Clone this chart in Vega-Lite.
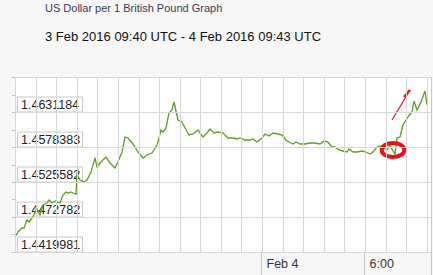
{
  "$schema": "https://vega.github.io/schema/vega-lite/v6.json",
  "width": 416,
  "height": 175,
  "autosize": {"type": "none"},
  "padding": {"left": 15, "top": 77, "right": 2, "bottom": 23},
  "background": "#f7f7f7",
  "title": {
    "text": "US Dollar per 1 British Pound Graph",
    "subtitle": "3 Feb 2016 09:40 UTC - 4 Feb 2016 09:43 UTC",
    "anchor": "start",
    "frame": "group",
    "dx": 30,
    "offset": 33,
    "font": "Liberation Sans",
    "fontSize": 11,
    "fontWeight": "normal",
    "color": "#3a3a52",
    "subtitleFont": "Liberation Sans",
    "subtitleFontSize": 13,
    "subtitleColor": "#111111",
    "subtitlePadding": 17
  },
  "config": {
    "font": "Liberation Sans",
    "view": {"fill": "#ffffff", "stroke": "#c8c8c8", "strokeWidth": 1},
    "axis": {"gridColor": "#d8d8d8", "gridWidth": 1, "gridOpacity": 1}
  },
  "resolve": {"axis": {"x": "independent", "y": "independent"}},
  "datasets": {
    "ylabels": [
      {"v": 1.4419981, "lab": "1.4419981"},
      {"v": 1.4472782, "lab": "1.4472782"},
      {"v": 1.4525582, "lab": "1.4525582"},
      {"v": 1.4578383, "lab": "1.4578383"},
      {"v": 1.4631184, "lab": "1.4631184"}
    ],
    "fx": [
      {"t": "2016-02-03T09:40:00Z", "v": 1.44431},
      {"t": "2016-02-03T09:52:00Z", "v": 1.44507},
      {"t": "2016-02-03T10:03:00Z", "v": 1.44557},
      {"t": "2016-02-03T10:11:00Z", "v": 1.44557},
      {"t": "2016-02-03T10:21:00Z", "v": 1.44683},
      {"t": "2016-02-03T10:30:00Z", "v": 1.44647},
      {"t": "2016-02-03T10:42:00Z", "v": 1.44733},
      {"t": "2016-02-03T10:50:00Z", "v": 1.44808},
      {"t": "2016-02-03T10:58:00Z", "v": 1.44849},
      {"t": "2016-02-03T11:07:00Z", "v": 1.44758},
      {"t": "2016-02-03T11:19:00Z", "v": 1.44909},
      {"t": "2016-02-03T11:31:00Z", "v": 1.44934},
      {"t": "2016-02-03T11:40:00Z", "v": 1.44984},
      {"t": "2016-02-03T11:48:00Z", "v": 1.44934},
      {"t": "2016-02-03T12:00:00Z", "v": 1.44969},
      {"t": "2016-02-03T12:08:00Z", "v": 1.44959},
      {"t": "2016-02-03T12:17:00Z", "v": 1.44934},
      {"t": "2016-02-03T12:29:00Z", "v": 1.45060},
      {"t": "2016-02-03T12:38:00Z", "v": 1.45100},
      {"t": "2016-02-03T12:47:00Z", "v": 1.45085},
      {"t": "2016-02-03T12:56:00Z", "v": 1.45110},
      {"t": "2016-02-03T13:04:00Z", "v": 1.45085},
      {"t": "2016-02-03T13:12:00Z", "v": 1.45075},
      {"t": "2016-02-03T13:18:00Z", "v": 1.45372},
      {"t": "2016-02-03T13:27:00Z", "v": 1.45286},
      {"t": "2016-02-03T13:41:00Z", "v": 1.45251},
      {"t": "2016-02-03T13:53:00Z", "v": 1.45286},
      {"t": "2016-02-03T14:05:00Z", "v": 1.45412},
      {"t": "2016-02-03T14:20:00Z", "v": 1.45623},
      {"t": "2016-02-03T14:28:00Z", "v": 1.45487},
      {"t": "2016-02-03T14:40:00Z", "v": 1.45553},
      {"t": "2016-02-03T14:57:00Z", "v": 1.45638},
      {"t": "2016-02-03T15:12:00Z", "v": 1.45537},
      {"t": "2016-02-03T15:30:00Z", "v": 1.45462},
      {"t": "2016-02-03T15:41:00Z", "v": 1.45563},
      {"t": "2016-02-03T15:53:00Z", "v": 1.45713},
      {"t": "2016-02-03T16:05:00Z", "v": 1.45940},
      {"t": "2016-02-03T16:16:00Z", "v": 1.45915},
      {"t": "2016-02-03T16:34:00Z", "v": 1.45824},
      {"t": "2016-02-03T16:51:00Z", "v": 1.45713},
      {"t": "2016-02-03T17:09:00Z", "v": 1.45623},
      {"t": "2016-02-03T17:21:00Z", "v": 1.45663},
      {"t": "2016-02-03T17:38:00Z", "v": 1.45688},
      {"t": "2016-02-03T17:55:00Z", "v": 1.45814},
      {"t": "2016-02-03T18:05:00Z", "v": 1.45915},
      {"t": "2016-02-03T18:09:00Z", "v": 1.46040},
      {"t": "2016-02-03T18:19:00Z", "v": 1.46015},
      {"t": "2016-02-03T18:27:00Z", "v": 1.46066},
      {"t": "2016-02-03T18:39:00Z", "v": 1.46292},
      {"t": "2016-02-03T18:48:00Z", "v": 1.46342},
      {"t": "2016-02-03T18:57:00Z", "v": 1.46458},
      {"t": "2016-02-03T19:09:00Z", "v": 1.46191},
      {"t": "2016-02-03T19:23:00Z", "v": 1.46166},
      {"t": "2016-02-03T19:35:00Z", "v": 1.46066},
      {"t": "2016-02-03T19:50:00Z", "v": 1.45965},
      {"t": "2016-02-03T20:04:00Z", "v": 1.45975},
      {"t": "2016-02-03T20:21:00Z", "v": 1.46040},
      {"t": "2016-02-03T20:36:00Z", "v": 1.45930},
      {"t": "2016-02-03T20:50:00Z", "v": 1.45990},
      {"t": "2016-02-03T21:02:00Z", "v": 1.46055},
      {"t": "2016-02-03T21:16:00Z", "v": 1.45990},
      {"t": "2016-02-03T21:31:00Z", "v": 1.46005},
      {"t": "2016-02-03T21:49:00Z", "v": 1.45990},
      {"t": "2016-02-03T22:06:00Z", "v": 1.45925},
      {"t": "2016-02-03T22:21:00Z", "v": 1.45915},
      {"t": "2016-02-03T22:35:00Z", "v": 1.45905},
      {"t": "2016-02-03T22:47:00Z", "v": 1.45925},
      {"t": "2016-02-03T23:04:00Z", "v": 1.45889},
      {"t": "2016-02-03T23:22:00Z", "v": 1.45889},
      {"t": "2016-02-03T23:34:00Z", "v": 1.45900},
      {"t": "2016-02-03T23:48:00Z", "v": 1.45864},
      {"t": "2016-02-04T00:03:00Z", "v": 1.45915},
      {"t": "2016-02-04T00:14:00Z", "v": 1.45975},
      {"t": "2016-02-04T00:30:00Z", "v": 1.45955},
      {"t": "2016-02-04T00:44:00Z", "v": 1.45990},
      {"t": "2016-02-04T01:01:00Z", "v": 1.45985},
      {"t": "2016-02-04T01:13:00Z", "v": 1.45965},
      {"t": "2016-02-04T01:28:00Z", "v": 1.45889},
      {"t": "2016-02-04T01:40:00Z", "v": 1.45854},
      {"t": "2016-02-04T01:51:00Z", "v": 1.45824},
      {"t": "2016-02-04T02:03:00Z", "v": 1.45854},
      {"t": "2016-02-04T02:17:00Z", "v": 1.45824},
      {"t": "2016-02-04T02:34:00Z", "v": 1.45829},
      {"t": "2016-02-04T02:52:00Z", "v": 1.45849},
      {"t": "2016-02-04T03:09:00Z", "v": 1.45839},
      {"t": "2016-02-04T03:27:00Z", "v": 1.45834},
      {"t": "2016-02-04T03:42:00Z", "v": 1.45874},
      {"t": "2016-02-04T03:56:00Z", "v": 1.45854},
      {"t": "2016-02-04T04:08:00Z", "v": 1.45789},
      {"t": "2016-02-04T04:19:00Z", "v": 1.45779},
      {"t": "2016-02-04T04:34:00Z", "v": 1.45739},
      {"t": "2016-02-04T04:48:00Z", "v": 1.45723},
      {"t": "2016-02-04T05:00:00Z", "v": 1.45713},
      {"t": "2016-02-04T05:09:00Z", "v": 1.45749},
      {"t": "2016-02-04T05:21:00Z", "v": 1.45713},
      {"t": "2016-02-04T05:35:00Z", "v": 1.45713},
      {"t": "2016-02-04T05:52:00Z", "v": 1.45723},
      {"t": "2016-02-04T06:08:00Z", "v": 1.45713},
      {"t": "2016-02-04T06:22:00Z", "v": 1.45678},
      {"t": "2016-02-04T06:33:00Z", "v": 1.45713},
      {"t": "2016-02-04T06:45:00Z", "v": 1.45789},
      {"t": "2016-02-04T06:57:00Z", "v": 1.45804},
      {"t": "2016-02-04T07:08:00Z", "v": 1.45774},
      {"t": "2016-02-04T07:20:00Z", "v": 1.45739},
      {"t": "2016-02-04T07:32:00Z", "v": 1.45804},
      {"t": "2016-02-04T07:49:00Z", "v": 1.45673},
      {"t": "2016-02-04T07:57:00Z", "v": 1.45915},
      {"t": "2016-02-04T08:07:00Z", "v": 1.45940},
      {"t": "2016-02-04T08:18:00Z", "v": 1.46116},
      {"t": "2016-02-04T08:36:00Z", "v": 1.46241},
      {"t": "2016-02-04T08:47:00Z", "v": 1.46317},
      {"t": "2016-02-04T08:56:00Z", "v": 1.46478},
      {"t": "2016-02-04T09:07:00Z", "v": 1.46342},
      {"t": "2016-02-04T09:19:00Z", "v": 1.46468},
      {"t": "2016-02-04T09:34:00Z", "v": 1.46629},
      {"t": "2016-02-04T09:42:00Z", "v": 1.46418}
    ],
    "circle": [
      {"t": "2016-02-04T07:43:00Z", "v": 1.45739}
    ],
    "pen": [
      {"t": "2016-02-04T07:37:00Z", "v": 1.46191},
      {"t": "2016-02-04T08:42:00Z", "v": 1.46644}
    ],
    "scribble": [
      {"t": "2016-02-04T08:22:00Z", "v": 1.46538},
      {"t": "2016-02-04T08:43:00Z", "v": 1.46651}
    ]
  },
  "layer": [
    {
      "data": {"name": "fx"},
      "mark": {"type": "line", "opacity": 0, "strokeWidth": 0},
      "encoding": {
        "x": {
          "field": "t",
          "type": "temporal",
          "scale": {"type": "utc", "domain": [1454492400000, 1454579700000], "round": true},
          "axis": {
            "orient": "bottom",
            "zindex": 1,
            "title": null,
            "domain": false,
            "grid": true,
            "ticks": false,
            "labels": false,
            "tickCount": 200,
            "values": [1454492400000, 1454496720000, 1454501040000, 1454505360000, 1454509680000, 1454514000000, 1454518320000, 1454522640000, 1454526960000, 1454531280000, 1454535600000, 1454539920000, 1454544240000, 1454548560000, 1454552880000, 1454557200000, 1454561520000, 1454565840000, 1454570160000, 1454574480000, 1454578800000]
          }
        },
        "y": {
          "field": "v",
          "type": "quantitative",
          "scale": {"domain": [1.4419981, 1.4683985], "nice": false, "zero": false, "round": true},
          "axis": {
            "orient": "left",
            "zindex": 1,
            "title": null,
            "domain": false,
            "grid": true,
            "ticks": false,
            "labels": false,
            "tickCount": 200,
            "values": [1.4419981, 1.4472782, 1.4525582, 1.4578383, 1.4631184, 1.4683985]
          }
        }
      }
    },
    {
      "data": {"name": "ylabels"},
      "mark": {"type": "rect", "fill": "#ffffff", "stroke": "#c8c8c8", "strokeWidth": 1, "xOffset": 2.5, "x2Offset": 67.5, "yOffset": -15, "y2Offset": 0},
      "encoding": {
        "x": {
          "datum": 1454492400000,
          "type": "temporal",
          "axis": {
            "orient": "bottom",
            "zindex": 1,
            "title": null,
            "domain": false,
            "grid": false,
            "tickCount": 200,
            "values": [1454544000000, 1454565600000, 1454579700000],
            "ticks": true,
            "tickSize": 23,
            "tickColor": "#c4c4c4",
            "labelExpr": "utcminutes(datum.value) == 0 && utchours(datum.value) == 0 ? 'Feb 4' : (utcminutes(datum.value) == 0 && utchours(datum.value) == 6 ? '6:00' : '')",
            "labelAlign": "left",
            "labelBaseline": "middle",
            "labelPadding": -12,
            "labelOffset": 5,
            "labelFontSize": 12.5,
            "labelColor": "#333333",
            "labelFlush": false,
            "labelOverlap": false,
            "labelBound": false
          }
        },
        "x2": {"datum": 1454492400000},
        "y": {
          "field": "v",
          "type": "quantitative",
          "axis": {
            "orient": "left",
            "zindex": 1,
            "title": null,
            "domain": false,
            "grid": false,
            "labels": false,
            "tickCount": 200,
            "values": [1.4419981, 1.44463815, 1.4472782, 1.44991825, 1.4525582, 1.45519825, 1.4578383, 1.46047835, 1.4631184, 1.46575845, 1.4683985],
            "tickSize": 4,
            "tickColor": "#c4c4c4"
          }
        },
        "y2": {"field": "v"}
      }
    },
    {
      "data": {"name": "ylabels"},
      "mark": {"type": "text", "align": "left", "baseline": "alphabetic", "dx": 6, "dy": -3, "fontSize": 12.5, "color": "#222222"},
      "encoding": {
        "x": {"datum": 1454492400000, "type": "temporal", "axis": null},
        "y": {"field": "v", "type": "quantitative", "axis": null},
        "text": {"field": "lab"}
      }
    },
    {
      "data": {"name": "fx"},
      "mark": {"type": "line", "color": "#5f9c24", "strokeWidth": 1.3},
      "encoding": {
        "x": {"field": "t", "type": "temporal", "axis": null},
        "y": {"field": "v", "type": "quantitative", "axis": null}
      }
    },
    {
      "data": {"name": "circle"},
      "mark": {"type": "point", "shape": "M-1,0A1,0.62,0,1,1,1,0A1,0.62,0,1,1,-1,0Z", "size": 515, "filled": false, "stroke": "#e3151a", "strokeWidth": 4, "opacity": 1},
      "encoding": {
        "x": {"field": "t", "type": "temporal", "axis": null},
        "y": {"field": "v", "type": "quantitative", "axis": null}
      }
    },
    {
      "data": {"name": "pen"},
      "mark": {"type": "line", "color": "#e3151a", "strokeWidth": 1.2},
      "encoding": {
        "x": {"field": "t", "type": "temporal", "axis": null},
        "y": {"field": "v", "type": "quantitative", "axis": null}
      }
    },
    {
      "data": {"name": "scribble"},
      "mark": {"type": "line", "color": "#e3151a", "strokeWidth": 2.5},
      "encoding": {
        "x": {"field": "t", "type": "temporal", "axis": null},
        "y": {"field": "v", "type": "quantitative", "axis": null}
      }
    }
  ]
}
